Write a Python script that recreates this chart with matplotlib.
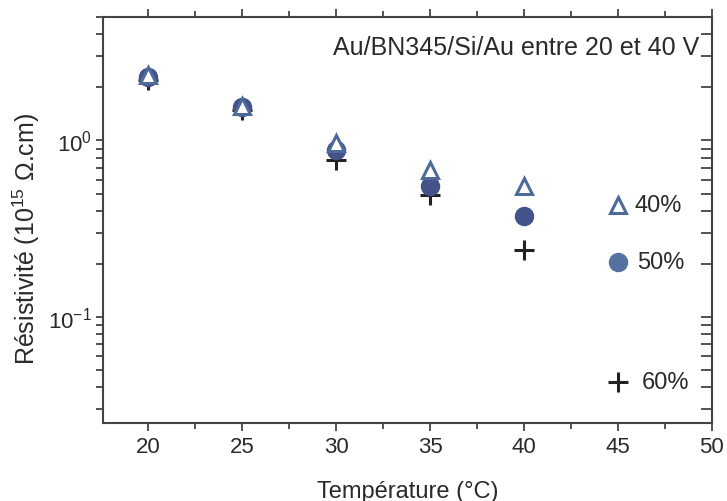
import matplotlib
matplotlib.use('Agg')
import matplotlib.pyplot as plt
from matplotlib.ticker import LogLocator, MultipleLocator

plt.rcParams['font.family'] = ['Liberation Sans', 'DejaVu Sans']
plt.rcParams['mathtext.fontset'] = 'custom'
plt.rcParams['mathtext.rm'] = 'Liberation Sans'
plt.rcParams['mathtext.it'] = 'Liberation Sans'

# temperatures (°C)
temps = [20, 25, 30, 35, 40]
# resistivity (1e15 ohm.cm) per humidity level
rho_40 = [2.34, 1.56, 0.97, 0.68, 0.55]
rho_50 = [2.30, 1.55, 0.88, 0.55, 0.375]
rho_60 = [2.19, 1.48, 0.77, 0.49, 0.24]

# hand-made legend entries inside the axes
legend_x = [45, 45, 45]
legend_y = [0.43, 0.205, 0.043]
legend_labels = ['40%', '50%', '60%']

c_tri = '#4d6a99'
c_dot = '#44528a'
c_plus = '#222222'
c_text = '#2a2a2a'

fig, ax = plt.subplots(figsize=(7.27, 5.02), dpi=100)
fig.subplots_adjust(left=0.142, right=0.979, top=0.964, bottom=0.155)

ax.plot(temps, rho_60, linestyle='none', marker='+', ms=15, mew=2.2, color=c_plus)
ax.plot(temps, rho_50, linestyle='none', marker='o', ms=13, color=c_dot, mec=c_dot)
ax.plot(temps, rho_40, linestyle='none', marker='^', ms=12, mfc='white', mec=c_tri, mew=2.2)

styles = [dict(marker='^', ms=12, mfc='white', mec=c_tri, mew=2.2),
          dict(marker='o', ms=13, color='#5670a0', mec='#5670a0'),
          dict(marker='+', ms=15, mew=2.2, color=c_plus)]
gaps = [0.9, 1.05, 1.3]
for x, y, lab, st, g in zip(legend_x, legend_y, legend_labels, styles, gaps):
    ax.plot([x], [y], linestyle='none', **st)
    ax.text(x + g, y, lab, fontsize=17, va='center', ha='left', color=c_text)

ax.text(0.98, 0.926, 'Au/BN345/Si/Au entre 20 et 40 V', transform=ax.transAxes,
        ha='right', va='center', fontsize=18, color=c_text)

ax.set_yscale('log')
ax.set_xlim(17.6, 50)
ax.set_ylim(0.025, 5.0)
ax.xaxis.set_major_locator(MultipleLocator(5))
ax.xaxis.set_minor_locator(MultipleLocator(2.5))
ax.yaxis.set_major_locator(LogLocator(base=10, numticks=10))
ax.yaxis.set_minor_locator(LogLocator(base=10, subs=range(2, 10), numticks=10))
ax.xaxis.set_major_formatter(plt.FuncFormatter(lambda v, p: '%d' % v if v >= 20 else ''))

ax.set_xlabel('Température (°C)', fontsize=17, color=c_text, labelpad=16)
ax.set_ylabel('Résistivité (10$^{15}$ Ω.cm)', fontsize=18, color=c_text)
ax.yaxis.set_label_coords(-0.1, 0.455)

for s in ax.spines.values():
    s.set_linewidth(1.5)
    s.set_color('#444444')

ax.tick_params(axis='both', which='both', colors='#444444', labelcolor=c_text,
               labelsize=16, width=1.3)
ax.tick_params(axis='x', which='both', direction='out', top=True, length=6)
ax.tick_params(axis='x', which='minor', length=4)
ax.tick_params(axis='y', which='both', direction='out', length=5, pad=3)
ax.tick_params(axis='y', which='both', right=True)

# right-hand ticks point inward in the original
for t in ax.yaxis.get_major_ticks() + ax.yaxis.get_minor_ticks():
    t.tick2line.set_marker(0)
    t.tick2line.set_markersize(8)

fig.savefig('out.png', dpi=100)
